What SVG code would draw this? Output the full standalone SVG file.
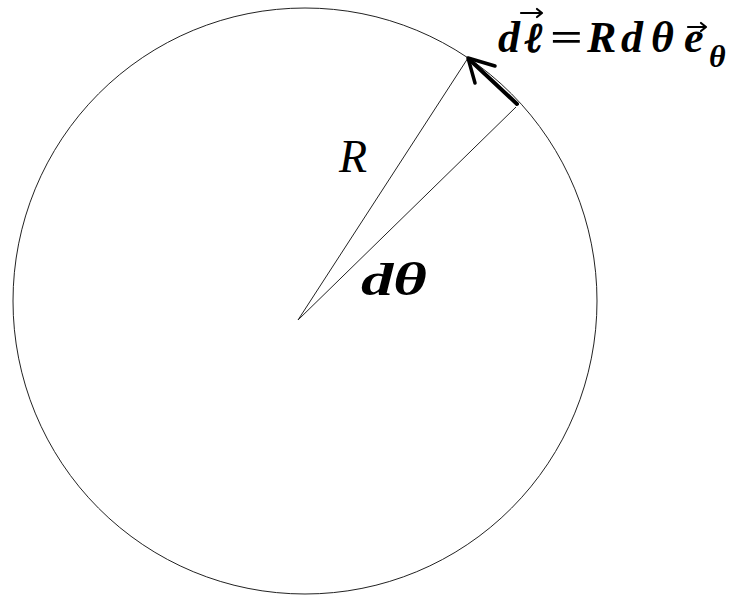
<svg xmlns="http://www.w3.org/2000/svg" width="747" height="598" viewBox="0 0 747 598">
<style>
.thin{fill:none;stroke:#222;stroke-width:1}
.lbl{font-family:"Liberation Serif","Times New Roman",serif;fill:#000}
.bi{font-weight:bold;font-style:italic}
.it{font-style:italic}
.vec{fill:none;stroke:#000;stroke-width:2.2;stroke-linecap:round;stroke-linejoin:round}
</style>
<rect width="747" height="598" fill="#fff"/>
<g id="circle">
<ellipse class="thin" cx="305" cy="301" rx="292" ry="293"/>
</g>
<g id="connectors">
<line class="thin" x1="298" y1="320" x2="468" y2="58"/>
<line class="thin" x1="298" y1="320" x2="516" y2="107"/>
<g id="arrow-dl">
<line x1="517" y1="104" x2="471" y2="61" stroke="#000" stroke-width="4" stroke-linecap="round"/>
<polyline points="495,66 468,58 475,83" fill="none" stroke="#000" stroke-width="3.5" stroke-linecap="round" stroke-linejoin="round"/>
</g>
</g>
<g id="label-R">
<text class="lbl it" x="339" y="172" font-size="46">R</text>
</g>
<g id="label-dtheta">
<text class="lbl bi" x="361" y="295" font-size="46" textLength="66" lengthAdjust="spacingAndGlyphs">dθ</text>
</g>
<g id="label-formula">
<text class="lbl bi" y="52" font-size="44"><tspan x="498">d</tspan><tspan x="525" font-family="DejaVu Serif, serif" font-size="42" stroke="#000" stroke-width="1.3">ℓ</tspan></text>
<text class="lbl" x="550" y="51" font-size="40" font-family="DejaVu Serif, serif" font-weight="bold" textLength="33" lengthAdjust="spacingAndGlyphs">=</text>
<text class="lbl bi" y="52" font-size="44"><tspan x="587">R</tspan><tspan x="621">d</tspan><tspan x="651">θ</tspan><tspan x="684">e</tspan></text>
<text class="lbl bi" x="709" y="67" font-size="32">θ</text>
<path class="vec" d="M521,13 L542,13 M537,9 L542,13 L537,17"/>
<path class="vec" d="M688,27 L706,27 M701,23 L706,27 L701,31"/>
</g>
</svg>
